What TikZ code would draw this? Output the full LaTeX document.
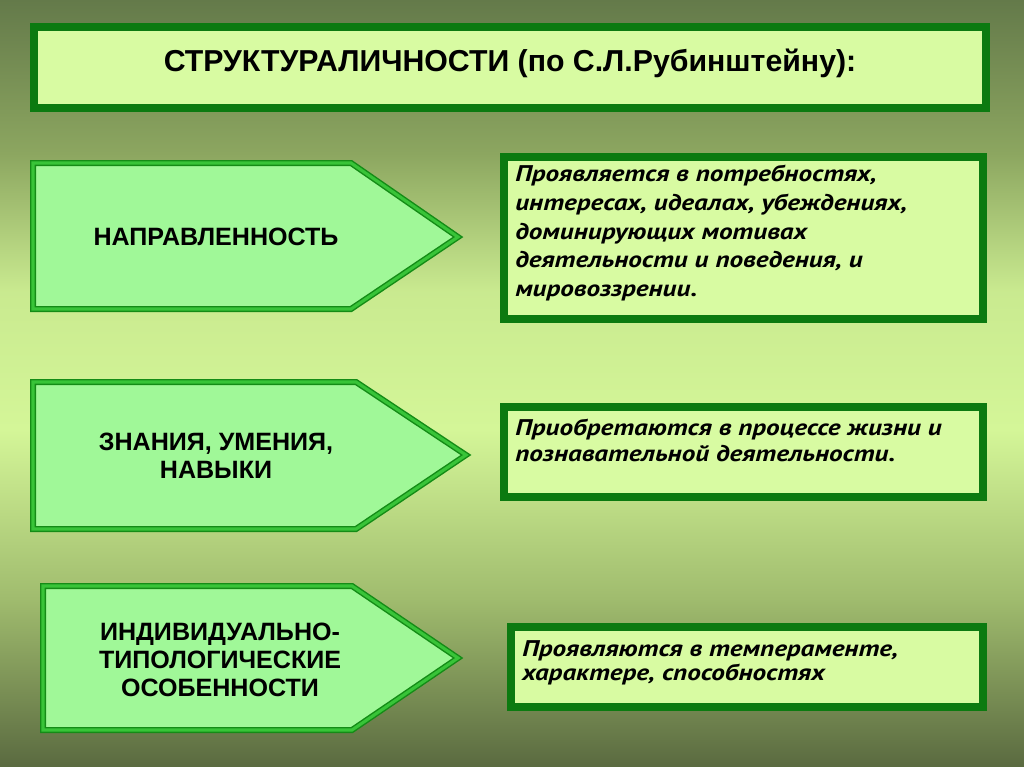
\documentclass[tikz,border=0pt]{standalone}
\usepackage{fontspec}
\usepackage{graphicx}
\usepackage{xcolor}
\setmainfont{Liberation Sans}
\newfontfamily\descfont[FakeStretch=1.2]{PT Sans}

\definecolor{bgtop}{RGB}{100,122,74}
\definecolor{bgupper}{RGB}{140,166,96}
\definecolor{bglight}{RGB}{212,246,152}
\definecolor{bglower}{RGB}{160,188,110}
\definecolor{bgbottom}{RGB}{90,106,64}
\definecolor{boxborder}{RGB}{12,122,16}
\definecolor{boxfill}{RGB}{216,251,162}
\definecolor{arrowfill}{RGB}{160,248,152}
\definecolor{arrowline}{RGB}{20,140,22}
\definecolor{arrowband}{RGB}{56,196,56}

\pgfdeclareverticalshading{slidebg}{100bp}{color(0bp)=(bgbottom); color(25bp)=(bgbottom);
  color(36bp)=(bglower); color(47bp)=(bglight); color(56bp)=(bglight!85!bgupper);
  color(65bp)=(bgupper); color(75bp)=(bgtop); color(100bp)=(bgtop)}

\begin{document}
\begin{tikzpicture}[x=0.75pt,y=-0.75pt,
  titlebox/.style={draw=boxborder,fill=boxfill,line width=6pt},
  descbox/.style={draw=boxborder,fill=boxfill,line width=6pt},
  part/.style={draw=arrowline,double=arrowband,line width=1.1pt,double distance=2.3pt,fill=arrowfill,line join=miter},
  partlabel/.style={font=\bfseries\fontsize{18.8}{21}\selectfont,align=center,inner sep=0pt},
  desc/.style={align=left,inner sep=0pt,anchor=north west}]
  \useasboundingbox (0,0) rectangle (1024,767);
  \shade[shading=slidebg] (0,0) rectangle (1024,767);

  % title
  \draw[titlebox] (33.5,27) rectangle (985.5,108);
  \node[anchor=base,inner sep=0pt,font=\bfseries\fontsize{22.7}{25}\selectfont] (title) at (510,72)
    {СТРУКТУРАЛИЧНОСТИ (по С.Л.Рубинштейну):};

  % left parts
  \draw[part] (33,163) -- (351,163) -- (458,237) -- (351,309) -- (33,309) -- cycle;
  \draw[part] (33,382) -- (356,382) -- (466,455) -- (356,529) -- (33,529) -- cycle;
  \draw[part] (43,586) -- (352,586) -- (458,658) -- (352,730) -- (43,730) -- cycle;
  \node[partlabel] (dir) at (216,237) {НАПРАВЛЕННОСТЬ};
  \node[partlabel] (skills) at (216,456) {ЗНАНИЯ, УМЕНИЯ,\\НАВЫКИ};
  \node[partlabel] (traits) at (220,660) {ИНДИВИДУАЛЬНО-\\ТИПОЛОГИЧЕСКИЕ\\ОСОБЕННОСТИ};

  % right descriptions
  \draw[descbox] (504,157) rectangle (983,319);
  \draw[descbox] (504,407) rectangle (983,497);
  \draw[descbox] (511,627) rectangle (983,707);
  \node[desc,font=\descfont\bfseries\itshape\fontsize{17}{21.5}\selectfont] (dirtext) at (515,165)
    {Проявляется в потребностях,\\интересах, идеалах, убеждениях,\\доминирующих мотивах\\деятельности и поведения, и\\мировоззрении.};
  \node[desc,font=\descfont\bfseries\itshape\fontsize{17}{19.5}\selectfont] (skilltext) at (515,419)
    {Приобретаются в процессе жизни и\\познавательной деятельности.};
  \node[desc,font=\descfont\bfseries\itshape\fontsize{17}{18.5}\selectfont] (traittext) at (522,640)
    {Проявляются в темпераменте,\\характере, способностях};
\end{tikzpicture}
\end{document}
